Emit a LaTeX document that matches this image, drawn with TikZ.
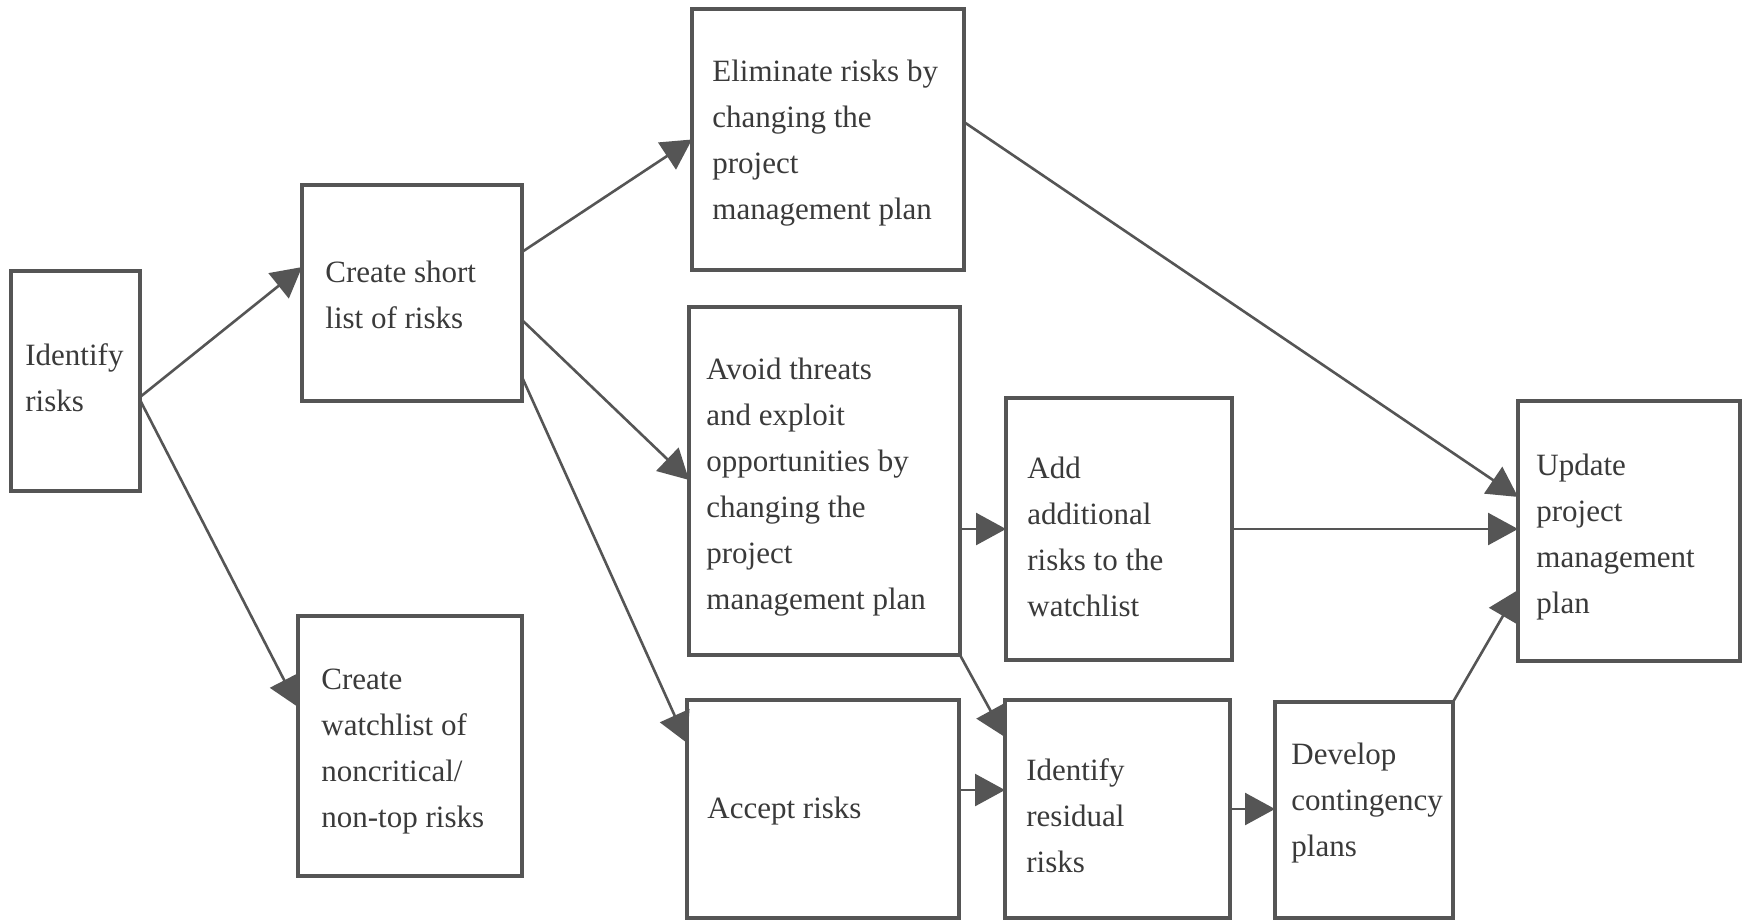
\documentclass[tikz,border=0pt]{standalone}
\usepackage{fontspec}
\setmainfont{Liberation Serif}
\usetikzlibrary{arrows.meta,calc}
\definecolor{ink}{HTML}{555555}
\definecolor{txt}{HTML}{3A3A3A}

\begin{document}
\begin{tikzpicture}[x=0.5pt,y=-0.5pt,
  box/.style={draw=ink, line width=1.6pt, fill=white, inner sep=0pt, outer sep=0pt, anchor=north west},
  lbl/.style={anchor=west, align=left, inner sep=0pt, text=txt, font=\fontsize{15.5}{23}\selectfont},
  conn/.style={draw=ink, line width=1.3pt, -{Triangle[length=15pt,width=16pt]}},
]
\useasboundingbox (0,0) rectangle (1746,920);
\fill[white] (0,0) rectangle (1746,920);

% process boxes
\node[box, minimum width=64.5pt, minimum height=110pt]  (ident)  at (11,271)   {};
\node[box, minimum width=110pt,  minimum height=108pt]  (short)  at (302,185)  {};
\node[box, minimum width=112pt,  minimum height=130pt]  (watch)  at (298,616)  {};
\node[box, minimum width=136pt,  minimum height=130.5pt](elim)   at (692,9)    {};
\node[box, minimum width=135.5pt,minimum height=174pt]  (avoid)  at (689,307)  {};
\node[box, minimum width=136pt,  minimum height=109pt]  (accept) at (687,700)  {};
\node[box, minimum width=113pt,  minimum height=131pt]  (add)    at (1006,398) {};
\node[box, minimum width=112.5pt,minimum height=109pt]  (resid)  at (1005,700) {};
\node[box, minimum width=89pt,   minimum height=108pt]  (devel)  at (1275,702) {};
\node[box, minimum width=111pt,  minimum height=130pt]  (update) at (1518,401) {};

% box texts
\node[lbl] (tident)  at (25,378)   {Identify\\risks};
\node[lbl] (tshort)  at (325,295)  {Create short\\list of risks};
\node[lbl] (twatch)  at (321,752)  {Create\\watchlist of\\noncritical/\\non-top risks};
\node[lbl] (telim)   at (712,143)  {Eliminate risks by\\changing the\\project\\management plan};
\node[lbl] (tavoid)  at (706,487)  {Avoid threats\\and exploit\\opportunities by\\changing the\\project\\management plan};
\node[lbl] (taccept) at (707,811)  {Accept risks};
\node[lbl] (tadd)    at (1027,537) {Add\\additional\\risks to the\\watchlist};
\node[lbl] (tresid)  at (1026,816) {Identify\\residual\\risks};
\node[lbl] (tdevel)  at (1291,803) {Develop\\contingency\\plans};
\node[lbl] (tupdate) at (1536,537) {Update\\project\\management\\plan};

% connectors
\draw[conn] ($(ident.north east)!0.573!(ident.south east)$) -- ($(short.north west)!0.38!(short.south west)$);
\draw[conn] ($(ident.north east)!0.586!(ident.south east)$) -- ($(watch.north west)!0.35!(watch.south west)$);
\draw[conn] ($(short.north east)!0.31!(short.south east)$) -- ($(elim.north west)!0.50!(elim.south west)$);
\draw[conn] ($(short.north east)!0.625!(short.south east)$) -- ($(avoid.north west)!0.497!(avoid.south west)$);
\draw[conn] ($(short.north east)!0.889!(short.south east)$) -- ($(accept.north west)!0.197!(accept.south west)$);
\draw[conn] ($(elim.north east)!0.433!(elim.south east)$) -- ($(update.north west)!0.369!(update.south west)$);
\draw[conn] (add.west -| avoid.east) -- (add.west);
\draw[conn] (add.east) -- (add.east -| update.west);
\draw[conn] (avoid.south east) -- ($(resid.north west)!0.17!(resid.south west)$);
\coordinate (ar) at ($(accept.north east)!0.413!(accept.south east)$);
\draw[conn] (ar) -- (ar -| resid.west);
\draw[conn] (resid.east) -- (resid.east -| devel.west);
\draw[conn] (devel.north east) -- ($(update.north west)!0.727!(update.south west)$);
\end{tikzpicture}
\end{document}
